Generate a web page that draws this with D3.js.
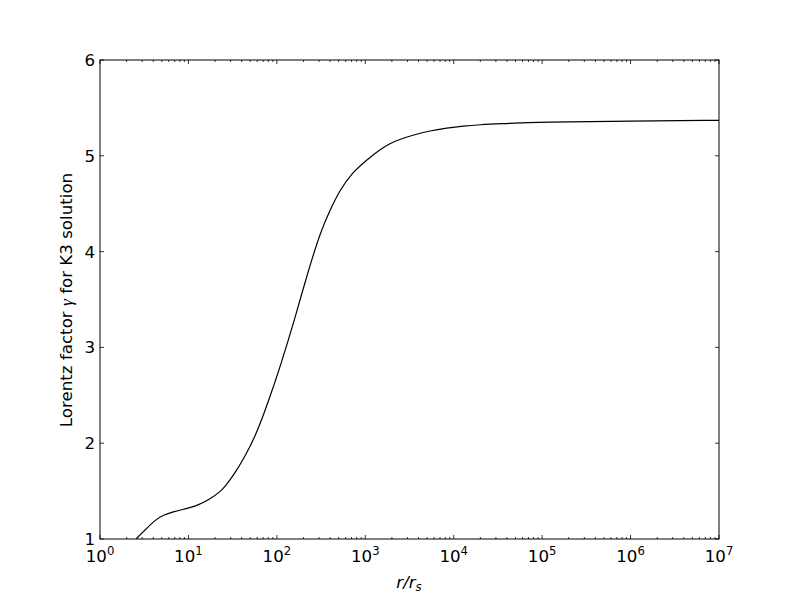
<!DOCTYPE html>
<html><head><meta charset="utf-8">
<script src="https://cdn.jsdelivr.net/npm/d3@7"></script>
<style>body{margin:0;background:#fff}text{font-family:"DejaVu Sans",sans-serif}</style>
</head><body><svg id="c" width="800" height="600"></svg>
<script>
const rValues = [2.55, 3.23, 4.19, 5.20, 6.75, 8.77, 11.9, 17.5, 22.8, 25.9, 33.6, 43.7, 56.6, 70.3, 83.8, 95.3, 109, 154, 217, 248, 308, 399, 518, 701, 1035, 1466, 1901, 2466, 3491, 5395, 8337, 12850, 19820, 31920, 1e5, 1e6, 1e7];
const gammaValues = [1.0, 1.094, 1.198, 1.25, 1.285, 1.31, 1.337, 1.414, 1.494, 1.546, 1.686, 1.865, 2.068, 2.29, 2.49, 2.64, 2.80, 3.25, 3.738, 3.912, 4.19, 4.434, 4.643, 4.817, 4.956, 5.065, 5.13, 5.172, 5.217, 5.262, 5.29, 5.311, 5.325, 5.335, 5.352, 5.363, 5.37];
const xTickExps = [0, 1, 2, 3, 4, 5, 6, 7];
const yTicks = [1, 2, 3, 4, 5, 6];

const svg = d3.select("#c");
const L = 100, R = 719, T = 60, B = 539;
const x = d3.scaleLog().domain([1, 1e7]).range([L, R]);
const y = d3.scaleLinear().domain([1, 6]).range([B, T]);
const fs = 16.67;

svg.append("clipPath").attr("id", "clip").append("rect")
  .attr("x", L).attr("y", T).attr("width", R - L).attr("height", B - T);

const data = rValues.map((r, i) => [r, gammaValues[i]]);
svg.append("path").datum(data)
  .attr("clip-path", "url(#clip)")
  .attr("fill", "none").attr("stroke", "#000").attr("stroke-width", 1.2)
  .attr("d", d3.line().x(d => x(d[0])).y(d => y(d[1])).curve(d3.curveBasis));

// ticks
const g = svg.append("g").attr("stroke", "#000").attr("stroke-width", 0.8);
xTickExps.forEach(e => {
  const px = x(Math.pow(10, e));
  g.append("line").attr("x1", px).attr("x2", px).attr("y1", B).attr("y2", B - 4);
  g.append("line").attr("x1", px).attr("x2", px).attr("y1", T).attr("y2", T + 4);
  if (e < 7) for (let m = 2; m <= 9; m++) {
    const pm = x(m * Math.pow(10, e));
    g.append("line").attr("x1", pm).attr("x2", pm).attr("y1", B).attr("y2", B - 2);
    g.append("line").attr("x1", pm).attr("x2", pm).attr("y1", T).attr("y2", T + 2);
  }
});
yTicks.forEach(v => {
  const py = y(v);
  g.append("line").attr("x1", L).attr("x2", L + 4).attr("y1", py).attr("y2", py);
  g.append("line").attr("x1", R).attr("x2", R - 4).attr("y1", py).attr("y2", py);
});

svg.append("rect").attr("x", L).attr("y", T).attr("width", R - L).attr("height", B - T)
  .attr("fill", "none").attr("stroke", "#000").attr("stroke-width", 1);

// tick labels
xTickExps.forEach(e => {
  const t = svg.append("text").attr("x", x(Math.pow(10, e))).attr("y", 562)
    .attr("text-anchor", "middle").attr("font-size", fs);
  t.append("tspan").text("10");
  t.append("tspan").attr("dy", -7).attr("font-size", fs * 0.7).text(String(e));
});
yTicks.forEach(v => {
  svg.append("text").attr("x", 95).attr("y", y(v)).attr("dy", "0.36em")
    .attr("text-anchor", "end").attr("font-size", fs).text(String(v));
});

// axis labels
const yl = svg.append("text").attr("transform", "translate(72,300) rotate(-90)")
  .attr("text-anchor", "middle").attr("font-size", fs);
yl.append("tspan").text("Lorentz factor ");
yl.append("tspan").attr("font-family", "Liberation Serif, serif").attr("font-style", "italic").attr("font-size", fs * 1.05).text("γ");
yl.append("tspan").text(" for K3 solution");

const xl = svg.append("text").attr("x", 409).attr("y", 588).attr("text-anchor", "middle")
  .attr("font-family", "Liberation Serif, serif").attr("font-style", "italic").attr("font-size", fs);
xl.append("tspan").text("r/r");
xl.append("tspan").attr("dy", 3).attr("font-size", fs * 0.7).text("s");
</script></body></html>
